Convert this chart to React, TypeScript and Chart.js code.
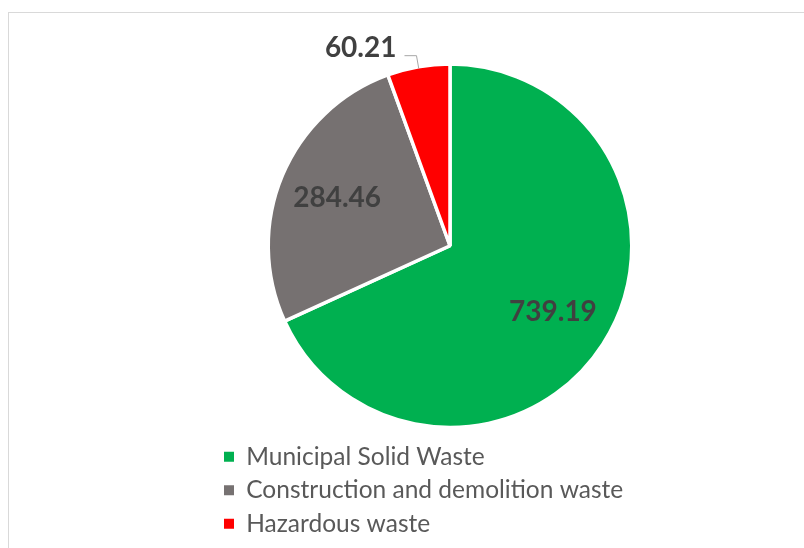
import { useEffect, useRef } from "react";
import { Chart, registerables } from "chart.js";

Chart.register(...registerables);

const categories = [
  "Municipal Solid Waste",
  "Construction and demolition waste",
  "Hazardous waste",
];
const values = [739.19, 284.46, 60.21];
const colors = ["#00B050", "#767171", "#FF0000"];

const BORDER = 3.5;

const sliceLabels = {
  id: "sliceLabels",
  afterDatasetsDraw(chart: any) {
    const ctx = chart.ctx as CanvasRenderingContext2D;
    const meta = chart.getDatasetMeta(0);
    const vals = chart.data.datasets[0].data as number[];
    ctx.save();
    ctx.font = "bold 28px Lato";
    ctx.fillStyle = "#404040";
    meta.data.forEach((arc: any, i: number) => {
      const p = arc.getProps(
        ["x", "y", "startAngle", "endAngle", "outerRadius", "circumference"],
        true
      );
      const mid = (p.startAngle + p.endAngle) / 2;
      const frac = p.circumference / (2 * Math.PI);
      const r = p.outerRadius - BORDER / 2;
      const cos = Math.cos(mid);
      const sin = Math.sin(mid);
      const text = vals[i].toFixed(2);
      if (frac > 0.1) {
        ctx.textAlign = "center";
        ctx.textBaseline = "middle";
        ctx.fillText(text, p.x + cos * r * 0.68, p.y + sin * r * 0.68);
      } else {
        const ax = p.x + cos * r;
        const ay = p.y + sin * r;
        const bx = p.x + cos * (r + 13);
        const by = p.y + sin * (r + 13);
        const cx = bx - 12;
        ctx.strokeStyle = "#A6A6A6";
        ctx.lineWidth = 1;
        ctx.beginPath();
        ctx.moveTo(ax, ay);
        ctx.lineTo(bx, by);
        ctx.lineTo(cx, by);
        ctx.stroke();
        ctx.textAlign = "right";
        ctx.textBaseline = "alphabetic";
        ctx.fillText(text, cx - 8, by + 1);
      }
    });
    ctx.restore();
  },
};

export default function App() {
  const ref = useRef<HTMLCanvasElement>(null);
  useEffect(() => {
    const chart = new Chart(ref.current as HTMLCanvasElement, {
      type: "pie",
      data: {
        labels: categories,
        datasets: [
          {
            data: values,
            backgroundColor: colors,
            borderColor: "#ffffff",
            borderWidth: BORDER,
            radius: 180 + BORDER / 2,
          } as any,
        ],
      },
      options: {
        animation: false,
        responsive: false,
        devicePixelRatio: 1,
        layout: { padding: { left: 215, right: 119, top: 56, bottom: 2 } },
        plugins: {
          tooltip: { enabled: false },
          legend: {
            position: "bottom",
            align: "start",
            labels: {
              boxWidth: 10,
              boxHeight: 10,
              padding: 9,
              color: "#595959",
              font: { family: "Lato", size: 24.5 },
              generateLabels: (c: any) =>
                (Chart as any).overrides.pie.plugins.legend.labels
                  .generateLabels(c)
                  .map((it: any) => ({ ...it, lineWidth: 0, strokeStyle: "transparent" })),
            },
          },
        },
      },
      plugins: [sliceLabels],
    });
    return () => chart.destroy();
  }, []);
  return (
    <div
      style={{
        position: "fixed",
        left: 0,
        top: 0,
        width: 804,
        height: 548,
        background: "#ffffff",
      }}
    >
      <div
        style={{
          position: "absolute",
          left: 8,
          top: 12,
          right: 0,
          bottom: 0,
          borderLeft: "1px solid #d9d9d9",
          borderTop: "1px solid #d9d9d9",
        }}
      />
      <canvas
        ref={ref}
        width={804}
        height={548}
        style={{ position: "absolute", left: 0, top: 0, width: 804, height: 548 }}
      />
    </div>
  );
}
